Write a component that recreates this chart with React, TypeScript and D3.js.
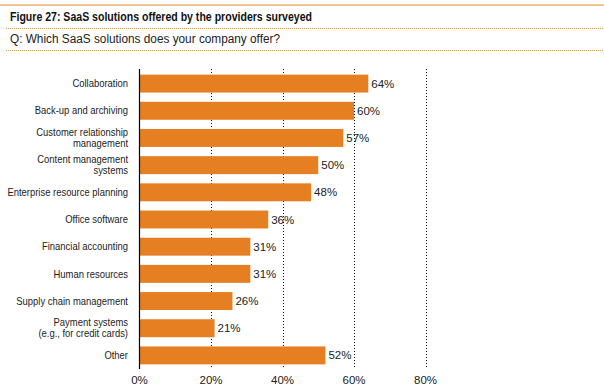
import { useEffect, useRef } from 'react';
import * as d3 from 'd3';

const categories = [
  'Collaboration',
  'Back-up and archiving',
  'Customer relationship|management',
  'Content management|systems',
  'Enterprise resource planning',
  'Office software',
  'Financial accounting',
  'Human resources',
  'Supply chain management',
  'Payment systems|(e.g., for credit cards)',
  'Other',
];
const values = [64, 60, 57, 50, 48, 36, 31, 31, 26, 21, 52];
const ticks = [0, 20, 40, 60, 80];

const W = 604;
const H = 391;

export default function App() {
  const svgRef = useRef<SVGSVGElement>(null);

  useEffect(() => {
    if (!svgRef.current) return;
    const svg = d3.select(svgRef.current);
    svg.selectAll('*').remove();

    const font = 'Arial, "Liberation Sans", sans-serif';

    // header rules
    svg.append('line')
      .attr('x1', 0).attr('x2', W).attr('y1', 5).attr('y2', 5)
      .attr('stroke', '#e3b26a').attr('stroke-width', 1.5);
    [28.5, 50.5].forEach(y => {
      svg.append('line')
        .attr('x1', 6).attr('x2', W).attr('y1', y).attr('y2', y)
        .attr('stroke', '#d9a04a').attr('stroke-width', 1)
        .attr('stroke-dasharray', '1,1');
    });

    svg.append('text')
      .attr('x', 10).attr('y', 21)
      .attr('font-family', font).attr('font-weight', 'bold').attr('font-size', 12.5)
      .attr('fill', '#111')
      .attr('textLength', 302).attr('lengthAdjust', 'spacingAndGlyphs')
      .text('Figure 27: SaaS solutions offered by the providers surveyed');
    svg.append('text')
      .attr('x', 10).attr('y', 43)
      .attr('font-family', font).attr('font-size', 12)
      .attr('fill', '#222')
      .attr('textLength', 270).attr('lengthAdjust', 'spacingAndGlyphs')
      .text('Q: Which SaaS solutions does your company offer?');

    const x = d3.scaleLinear().domain([0, 80]).range([139.5, 425.5]);
    const y = d3.scaleBand<string>().domain(categories).range([70, 369]).paddingInner(0.34).paddingOuter(0.17);

    const g = svg.append('g');

    // dotted grid
    g.selectAll('line.grid')
      .data(ticks.slice(1))
      .join('line')
      .attr('class', 'grid')
      .attr('x1', d => Math.round(x(d)) + 0.5).attr('x2', d => Math.round(x(d)) + 0.5)
      .attr('y1', 69).attr('y2', 369)
      .attr('stroke', '#111').attr('stroke-width', 1)
      .attr('stroke-dasharray', '1,2');

    // bars
    g.selectAll('rect')
      .data(categories)
      .join('rect')
      .attr('x', x(0))
      .attr('y', d => y(d)!)
      .attr('width', (_, i) => x(values[i]) - x(0))
      .attr('height', y.bandwidth())
      .attr('fill', '#e67f22');

    // axis line
    g.append('line')
      .attr('x1', x(0)).attr('x2', x(0)).attr('y1', 69).attr('y2', 369)
      .attr('stroke', '#000').attr('stroke-width', 1.2);

    // value labels
    g.selectAll('text.val')
      .data(categories)
      .join('text')
      .attr('class', 'val')
      .attr('x', (_, i) => x(values[i]) + 3)
      .attr('y', d => y(d)! + y.bandwidth() / 2)
      .attr('dy', '0.35em')
      .attr('font-family', font).attr('font-size', 11.5)
      .attr('fill', '#222')
      .text((_, i) => `${values[i]}%`);

    // category labels (slightly condensed like the original face)
    const lg = g.append('g').attr('transform', 'translate(128,0) scale(0.9,1)');
    const labels = lg.selectAll('text.cat')
      .data(categories)
      .join('text')
      .attr('class', 'cat')
      .attr('text-anchor', 'end')
      .attr('font-family', font).attr('font-size', 10.5)
      .attr('fill', '#222');
    labels.each(function (d) {
      const lines = d.split('|');
      const cy = y(d)! + y.bandwidth() / 2;
      const t = d3.select(this);
      lines.forEach((ln, j) => {
        t.append('tspan')
          .attr('x', 0)
          .attr('y', cy + (j - (lines.length - 1) / 2) * 11)
          .attr('dy', '0.35em')
          .text(ln);
      });
    });

    // tick labels
    g.selectAll('text.tick')
      .data(ticks)
      .join('text')
      .attr('class', 'tick')
      .attr('x', d => x(d))
      .attr('y', 384)
      .attr('text-anchor', 'middle')
      .attr('font-family', font).attr('font-size', 11.5)
      .attr('fill', '#222')
      .text(d => `${d}%`);
  }, []);

  return (
    <svg
      ref={svgRef}
      width={W}
      height={H}
      style={{ position: 'absolute', left: 0, top: 0, background: '#fff' }}
    />
  );
}
